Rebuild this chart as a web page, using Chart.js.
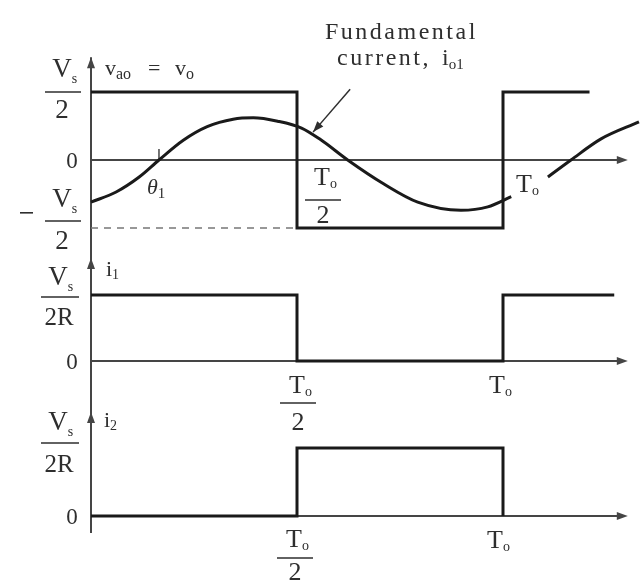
<!DOCTYPE html>
<html>
<head>
<meta charset="utf-8">
<script src="https://cdn.jsdelivr.net/npm/chart.js@4.4.1/dist/chart.umd.min.js"></script>
<style>
  html, body { margin: 0; padding: 0; background: #fff; }
  #wrap { position: relative; width: 642px; height: 585px; }
  canvas { display: block; }
</style>
</head>
<body>
<div id="wrap"><canvas id="c" width="642" height="585"></canvas></div>
<script>
// Time is measured in output periods T_o.
// Output voltage v_ao = v_o, in units of Vs/2 (level reached at each listed instant)
const voTimes  = [0, 0.5, 1, 1.21];
const voLevels = [1, -1, 1, 1];

// Switch current i1, in units of Vs/2R
const i1Times  = [0, 0.5, 1, 1.27];
const i1Levels = [1, 0, 1, 1];

// Switch current i2, in units of Vs/2R
const i2Times  = [0, 0.5, 1];
const i2Levels = [0, 1, 0];

// Fundamental load current i_o1 (same vertical units as v_o); null leaves room for the T_o label
const io1Times  = [0, 0.061, 0.117, 0.165, 0.224, 0.282, 0.345, 0.394, 0.453, 0.511, 0.557,
                   0.623, 0.71, 0.793, 0.898, 0.963, 1.02, 1.065, 1.109, 1.165, 1.238, 1.33];
const io1Values = [-0.62, -0.47, -0.25, 0, 0.29, 0.49, 0.60, 0.62, 0.57, 0.47, 0.30,
                   0, -0.35, -0.62, -0.74, -0.69, -0.54, null, -0.25, 0, 0.31, 0.56];

// Lagging angle of the fundamental current
const theta1 = 0.165;

// ---- layout of the three panels on the shared time axis ----
const W = 642, H = 585;
const ORIGIN_PX = 91, PERIOD_PX = 412;
const AXIS_END = 1.303;
function yRange(zeroPx, unitPx) {
  const max = zeroPx / unitPx;
  return { min: max - H / unitPx, max: max };
}
const rTop = yRange(160, 68), rMid = yRange(361, 66), rBot = yRange(516, 68);

const pts = (xs, ys) => xs.map((x, i) => ({ x: x, y: ys[i] }));

const INK = '#1a1a1a';
const AXIS = '#454545';
const TXT = '#2e2e2e';
const SERIF = '"Liberation Serif", "DejaVu Serif", serif';

function stepSet(data, axis) {
  return {
    data: data, yAxisID: axis, stepped: 'before',
    borderColor: INK, borderWidth: 3, pointRadius: 0,
    borderJoinStyle: 'miter', borderCapStyle: 'butt', fill: false
  };
}

function font(size, italic) { return (italic ? 'italic ' : '') + size + 'px ' + SERIF; }

// main text with a lowered subscript; returns total width
function subText(ctx, x, y, main, sub, size, subSize, drop, align, italic) {
  ctx.font = font(size, italic);
  const w1 = ctx.measureText(main).width;
  ctx.font = font(subSize, false);
  const w2 = sub ? ctx.measureText(sub).width : 0;
  let x0 = x;
  if (align === 'center') x0 = x - w1 / 2;
  else if (align === 'right') x0 = x - w1 - w2;
  ctx.textAlign = 'left';
  ctx.textBaseline = 'alphabetic';
  ctx.font = font(size, italic);
  ctx.fillText(main, x0, y);
  if (sub) { ctx.font = font(subSize, false); ctx.fillText(sub, x0 + w1, y + drop); }
  return w1 + w2;
}

function fracBar(ctx, cx, y, w) {
  ctx.beginPath();
  ctx.moveTo(cx - w / 2, y);
  ctx.lineTo(cx + w / 2, y);
  ctx.lineWidth = 1.5;
  ctx.strokeStyle = TXT;
  ctx.stroke();
}

function centered(ctx, cx, y, text, size) {
  ctx.font = font(size, false);
  ctx.textAlign = 'center';
  ctx.textBaseline = 'alphabetic';
  ctx.fillText(text, cx, y);
}

function arrowHead(ctx, tx, ty, ang, len, half) {
  ctx.beginPath();
  ctx.moveTo(tx, ty);
  ctx.lineTo(tx - len * Math.cos(ang) + half * Math.sin(ang), ty - len * Math.sin(ang) - half * Math.cos(ang));
  ctx.lineTo(tx - len * Math.cos(ang) - half * Math.sin(ang), ty - len * Math.sin(ang) + half * Math.cos(ang));
  ctx.closePath();
  ctx.fill();
}

const diagram = {
  id: 'diagram',
  beforeDatasetsDraw(chart) {
    const ctx = chart.ctx;
    const xs = chart.scales.x;
    const panels = [
      { s: chart.scales.yTop, tip: 1.51 },
      { s: chart.scales.yMid, tip: 1.56 },
      { s: chart.scales.yBot, tip: 1.53 }
    ];
    const x0 = xs.getPixelForValue(0);
    const xEnd = xs.getPixelForValue(AXIS_END);
    ctx.save();
    ctx.strokeStyle = AXIS;
    ctx.fillStyle = AXIS;
    ctx.lineWidth = 2;
    // common vertical axis
    ctx.beginPath();
    ctx.moveTo(x0, panels[0].s.getPixelForValue(panels[0].tip));
    ctx.lineTo(x0, chart.scales.yBot.getPixelForValue(-0.25));
    ctx.stroke();
    panels.forEach(p => {
      const yz = p.s.getPixelForValue(0);
      ctx.beginPath();
      ctx.moveTo(x0, yz);
      ctx.lineTo(xEnd - 6, yz);
      ctx.stroke();
      arrowHead(ctx, xEnd, yz, 0, 11, 4);
      arrowHead(ctx, x0, p.s.getPixelForValue(p.tip), -Math.PI / 2, 11, 4);
    });
    // theta_1 marker on the time axis
    const yt = chart.scales.yTop;
    const xt = xs.getPixelForValue(theta1);
    ctx.lineWidth = 1.5;
    ctx.beginPath();
    ctx.moveTo(xt, yt.getPixelForValue(0));
    ctx.lineTo(xt, yt.getPixelForValue(0) - 11);
    ctx.stroke();
    ctx.restore();
  },
  afterDatasetsDraw(chart) {
    const ctx = chart.ctx;
    const xs = chart.scales.x;
    const yT = chart.scales.yTop, yM = chart.scales.yMid, yB = chart.scales.yBot;
    ctx.save();
    ctx.fillStyle = TXT;

    // ---- top panel ----
    let bar = yT.getPixelForValue(1);
    subText(ctx, 62, bar - 15, 'V', 's', 27, 14, 6, 'center');
    fracBar(ctx, 63, bar, 36);
    centered(ctx, 62, bar + 26, '2', 27);

    centered(ctx, 72, yT.getPixelForValue(0) + 8, '0', 23);

    bar = yT.getPixelForValue(-1) - 7;
    ctx.fillRect(20, bar - 9, 13, 1.6);
    subText(ctx, 62, bar - 14, 'V', 's', 27, 14, 6, 'center');
    fracBar(ctx, 63, bar, 36);
    centered(ctx, 62, bar + 28, '2', 27);

    subText(ctx, 105, 75, 'v', 'ao', 22, 16, 4, 'left');
    ctx.font = font(22); ctx.textAlign = 'left';
    ctx.fillText('=', 148, 75);
    subText(ctx, 175, 75, 'v', 'o', 22, 16, 4, 'left');

    subText(ctx, xs.getPixelForValue(theta1) - 12, 194, 'θ', '1', 22, 15, 4, 'left', true);

    let cx = xs.getPixelForValue(0.5) + 26;
    subText(ctx, cx - 1, 185, 'T', 'o', 26, 14, 3, 'center');
    fracBar(ctx, cx, 200, 36);
    centered(ctx, cx, 223, '2', 26);

    subText(ctx, xs.getPixelForValue(1) + 21, 192, 'T', 'o', 26, 14, 3, 'center');

    // annotation for the fundamental current
    ctx.font = font(24);
    ctx.letterSpacing = '2.5px';
    ctx.textAlign = 'left';
    ctx.fillText('Fundamental', 325, 39);
    ctx.fillText('current,', 337, 65);
    ctx.letterSpacing = '0px';
    subText(ctx, 442, 65, 'i', 'o1', 24, 15, 4, 'left');

    const tailX = xs.getPixelForValue(0.629), tailY = yT.getPixelForValue(1.04);
    const tipX = xs.getPixelForValue(0.539), tipY = yT.getPixelForValue(0.41);
    ctx.strokeStyle = TXT;
    ctx.lineWidth = 1.5;
    ctx.beginPath();
    ctx.moveTo(tailX, tailY);
    ctx.lineTo(tipX, tipY);
    ctx.stroke();
    arrowHead(ctx, tipX, tipY, Math.atan2(tipY - tailY, tipX - tailX), 11, 4);

    // ---- middle panel ----
    subText(ctx, 106, 276, 'i', '1', 22, 14, 3, 'left');
    bar = yM.getPixelForValue(1) + 2;
    subText(ctx, 58, bar - 12, 'V', 's', 27, 14, 6, 'center');
    fracBar(ctx, 60, bar, 38);
    centered(ctx, 59, bar + 28, '2R', 25);
    centered(ctx, 72, yM.getPixelForValue(0) + 8, '0', 23);

    cx = xs.getPixelForValue(0.5) + 1;
    subText(ctx, cx - 1, 393, 'T', 'o', 26, 14, 3, 'center');
    fracBar(ctx, cx, 403, 36);
    centered(ctx, cx, 430, '2', 26);
    subText(ctx, xs.getPixelForValue(1) - 6, 393, 'T', 'o', 26, 14, 3, 'center');

    // ---- bottom panel ----
    subText(ctx, 104, 427, 'i', '2', 22, 14, 3, 'left');
    bar = yB.getPixelForValue(1) - 5;
    subText(ctx, 58, bar - 13, 'V', 's', 27, 14, 6, 'center');
    fracBar(ctx, 60, bar, 38);
    centered(ctx, 59, bar + 29, '2R', 25);
    centered(ctx, 72, yB.getPixelForValue(0) + 8, '0', 23);

    cx = xs.getPixelForValue(0.5) - 2;
    subText(ctx, cx - 1, 547, 'T', 'o', 26, 14, 3, 'center');
    fracBar(ctx, cx, 558, 36);
    centered(ctx, cx, 580, '2', 26);
    subText(ctx, xs.getPixelForValue(1) - 8, 548, 'T', 'o', 26, 14, 3, 'center');

    ctx.restore();
  }
};

new Chart(document.getElementById('c'), {
  type: 'line',
  data: {
    datasets: [
      {
        data: [{ x: 0, y: -1 }, { x: 0.5, y: -1 }], yAxisID: 'yTop',
        borderColor: '#777', borderWidth: 1.5, borderDash: [7, 6], pointRadius: 0
      },
      stepSet(pts(voTimes, voLevels), 'yTop'),
      {
        data: pts(io1Times, io1Values), yAxisID: 'yTop',
        borderColor: INK, borderWidth: 3, pointRadius: 0,
        cubicInterpolationMode: 'monotone', spanGaps: false, fill: false
      },
      stepSet(pts(i1Times, i1Levels), 'yMid'),
      stepSet(pts(i2Times, i2Levels), 'yBot')
    ]
  },
  options: {
    responsive: false,
    animation: false,
    events: [],
    layout: { padding: 0 },
    plugins: { legend: { display: false }, tooltip: { enabled: false } },
    scales: {
      x: { type: 'linear', display: false, min: -ORIGIN_PX / PERIOD_PX, max: (W - ORIGIN_PX) / PERIOD_PX },
      yTop: { type: 'linear', display: false, min: rTop.min, max: rTop.max },
      yMid: { type: 'linear', display: false, min: rMid.min, max: rMid.max },
      yBot: { type: 'linear', display: false, min: rBot.min, max: rBot.max }
    }
  },
  plugins: [diagram]
});
</script>
</body>
</html>
